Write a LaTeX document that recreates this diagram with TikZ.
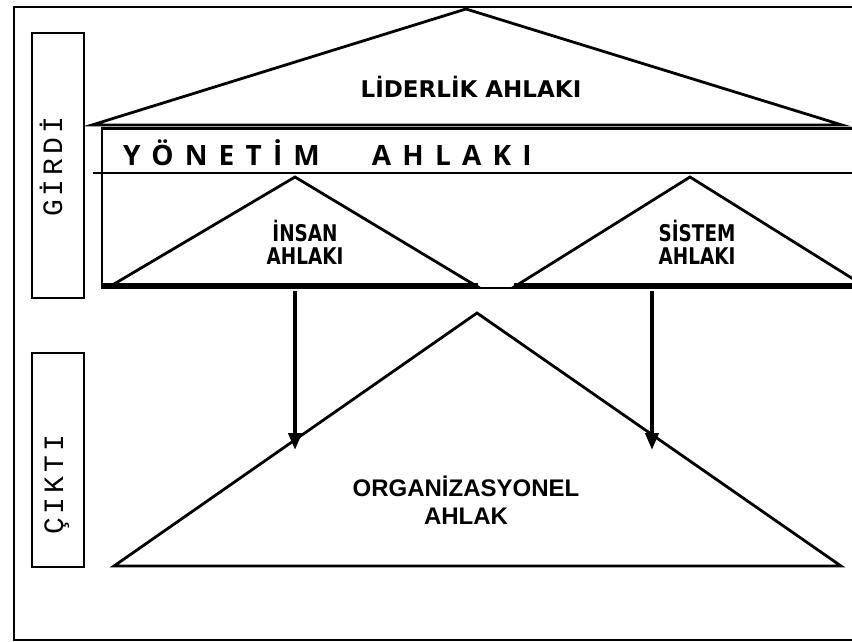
\documentclass[tikz,border=0pt]{standalone}
\usepackage{fontspec}
\usetikzlibrary{arrows.meta}
\newfontfamily\hdrfont{DejaVu Sans}
\newfontfamily\subfont{DejaVu Sans}[FakeStretch=0.8]
\newfontfamily\orgfont{Liberation Sans}
\newfontfamily\yonfont{Open Sans}[LetterSpace=40]
\newfontfamily\sidefont{Liberation Mono}[LetterSpace=14]
\newcommand\fsz[2]{\fontsize{#1}{#2}\selectfont}

\begin{document}
\begin{tikzpicture}[x=1pt,y=-1pt,line join=miter,
  frame/.style={line width=2.8pt},
  basebar/.style={line width=6pt},
  flow/.style={line width=4pt,-{Triangle[length=17pt,width=13pt]}},
  sidelabel/.style={rotate=90,anchor=base,inner sep=0pt,font=\sidefont\fsz{28}{28}},
  every node/.style={inner sep=0pt}]
\useasboundingbox (0,0) rectangle (852,642);
% outer frame
\draw [frame] (852,7) -- (14,7) -- (14,640) -- (852,640);
% side boxes
\draw [frame] (32,33) rectangle (84,298);
\node [sidelabel] (girdi) at (62,167) {GİRDİ};
\draw [frame] (32,353) rectangle (84,567);
\node [sidelabel] (cikti) at (63,485) {ÇIKTI};
% leadership roof
\draw [frame] (92,125) -- (466,9) -- (842,125) -- cycle;
\node [anchor=base,font=\hdrfont\bfseries\fsz{23}{23}] (lider) at (471,97) {LİDERLİK AHLAKI};
% management band
\draw [frame] (852,128.5) -- (102,128.5) -- (102,288) -- (852,288);
\draw [frame] (93,173) -- (852,173);
\node [anchor=base west,font=\yonfont\bfseries\fsz{28}{28}] (yonetim) at (123,165) {YÖNETİM\hspace{52pt}AHLAKI};
% inner triangles
\draw [frame] (109,287) -- (295,177) -- (478,287) -- cycle;
\draw [frame] (514,287) -- (690,177) -- (866,287) -- cycle;
\draw [basebar] (103,286) -- (478,286);
\draw [basebar] (514,286) -- (852,286);
\node [anchor=south,align=center,font=\subfont\bfseries\fsz{23}{23}] (insan) at (305,265) {İNSAN\\AHLAKI};
\node [anchor=south,align=center,font=\subfont\bfseries\fsz{23}{23}] (sistem) at (697,265) {SİSTEM\\AHLAKI};
% organisational triangle
\draw [frame] (114,566) -- (477,313) -- (841,566) -- cycle;
\node [anchor=south,align=center,font=\orgfont\bfseries\fsz{24}{28}] (org) at (466,525) {ORGANİZASYONEL\\AHLAK};
% arrows
\coordinate (insanfoot) at (295,291);
\coordinate (sistemfoot) at (652,291);
\coordinate (orgleft) at (295,450);
\coordinate (orgright) at (652,450);
\draw [flow] (insanfoot) -- (orgleft);
\draw [flow] (sistemfoot) -- (orgright);
\end{tikzpicture}
\end{document}
